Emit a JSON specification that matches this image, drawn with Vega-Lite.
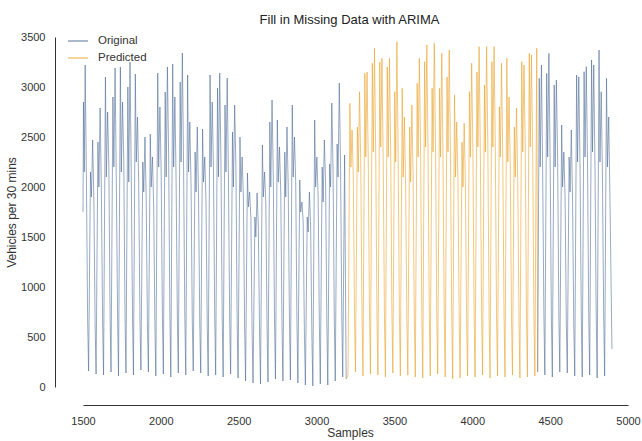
{
"$schema": "https://vega.github.io/schema/vega-lite/v6.json",
"width": 545, "height": 350,
"autosize": {"type": "none"},
"padding": {"left": 83, "top": 37, "right": 14, "bottom": 54},
"config": {"view": {"stroke": null}, "font": "Liberation Sans"},
"title": {"text": "Fill in Missing Data with ARIMA", "fontSize": 13, "fontWeight": "normal", "font": "Liberation Sans", "color": "#222", "offset": 3, "dx": -6},
"datasets": {
"original1": [
{"x":1500,"y":1750},{"x":1503,"y":2850},{"x":1508,"y":2150},{"x":1514,"y":3220},{"x":1522,"y":2050},{"x":1530,"y":650},
{"x":1536,"y":160},{"x":1548,"y":2150},{"x":1554,"y":1900},{"x":1562,"y":2470},{"x":1570,"y":1850},{"x":1578,"y":600},
{"x":1584,"y":130},{"x":1596,"y":2450},{"x":1602,"y":2000},{"x":1610,"y":2790},{"x":1618,"y":1950},{"x":1626,"y":650},
{"x":1632,"y":120},{"x":1644,"y":3100},{"x":1650,"y":2100},{"x":1658,"y":2750},{"x":1666,"y":2200},{"x":1674,"y":700},
{"x":1680,"y":150},{"x":1692,"y":2900},{"x":1698,"y":2200},{"x":1706,"y":3190},{"x":1714,"y":2050},{"x":1722,"y":720},
{"x":1728,"y":110},{"x":1740,"y":3200},{"x":1746,"y":2150},{"x":1754,"y":2850},{"x":1762,"y":2250},{"x":1770,"y":680},
{"x":1776,"y":140},{"x":1788,"y":3000},{"x":1794,"y":2050},{"x":1802,"y":3250},{"x":1810,"y":2100},{"x":1818,"y":700},
{"x":1824,"y":120},{"x":1836,"y":3130},{"x":1842,"y":2250},{"x":1850,"y":2700},{"x":1858,"y":2000},{"x":1866,"y":650},
{"x":1872,"y":170},{"x":1884,"y":2250},{"x":1890,"y":1950},{"x":1898,"y":2500},{"x":1906,"y":1850},{"x":1914,"y":600},
{"x":1920,"y":150},{"x":1932,"y":2530},{"x":1938,"y":2000},{"x":1946,"y":2300},{"x":1954,"y":1800},{"x":1962,"y":580},
{"x":1968,"y":110},{"x":1980,"y":3140},{"x":1986,"y":2200},{"x":1994,"y":2800},{"x":2002,"y":2150},{"x":2010,"y":700},
{"x":2016,"y":130},{"x":2028,"y":2950},{"x":2034,"y":2100},{"x":2042,"y":3200},{"x":2050,"y":2300},{"x":2058,"y":720},
{"x":2064,"y":100},{"x":2076,"y":3230},{"x":2082,"y":2200},{"x":2090,"y":2900},{"x":2098,"y":2050},{"x":2106,"y":690},
{"x":2112,"y":140},{"x":2124,"y":3050},{"x":2130,"y":2250},{"x":2138,"y":3340},{"x":2146,"y":2200},{"x":2154,"y":700},
{"x":2160,"y":120},{"x":2172,"y":3120},{"x":2178,"y":2150},{"x":2186,"y":2650},{"x":2194,"y":2000},{"x":2202,"y":650},
{"x":2208,"y":160},{"x":2220,"y":2350},{"x":2226,"y":1950},{"x":2234,"y":2600},{"x":2242,"y":1900},{"x":2250,"y":620},
{"x":2256,"y":140},{"x":2268,"y":2580},{"x":2274,"y":2050},{"x":2282,"y":2300},{"x":2290,"y":1850},{"x":2298,"y":600},
{"x":2304,"y":110},{"x":2316,"y":3120},{"x":2322,"y":2200},{"x":2330,"y":2850},{"x":2338,"y":2150},{"x":2346,"y":700},
{"x":2352,"y":120},{"x":2364,"y":2990},{"x":2370,"y":2100},{"x":2378,"y":3140},{"x":2386,"y":2250},{"x":2394,"y":690},
{"x":2400,"y":100},{"x":2412,"y":2820},{"x":2418,"y":2150},{"x":2426,"y":3090},{"x":2434,"y":2100},{"x":2442,"y":680},
{"x":2448,"y":130},{"x":2460,"y":2550},{"x":2466,"y":2000},{"x":2474,"y":2820},{"x":2482,"y":2200},{"x":2490,"y":650},
{"x":2496,"y":90},{"x":2508,"y":2500},{"x":2514,"y":1950},{"x":2522,"y":2300},{"x":2530,"y":1900},{"x":2538,"y":600},
{"x":2544,"y":60},{"x":2556,"y":2140},{"x":2562,"y":1800},{"x":2570,"y":1950},{"x":2578,"y":1700},{"x":2586,"y":550},
{"x":2592,"y":40},{"x":2604,"y":1700},{"x":2610,"y":1500},{"x":2618,"y":1940},{"x":2626,"y":1600},{"x":2634,"y":520},
{"x":2640,"y":30},{"x":2652,"y":2420},{"x":2658,"y":1900},{"x":2666,"y":2150},{"x":2674,"y":1850},{"x":2682,"y":600},
{"x":2688,"y":50},{"x":2700,"y":2650},{"x":2706,"y":2000},{"x":2714,"y":2870},{"x":2722,"y":2100},{"x":2730,"y":650},
{"x":2736,"y":80},{"x":2748,"y":2670},{"x":2754,"y":2050},{"x":2762,"y":2400},{"x":2770,"y":1950},{"x":2778,"y":620},
{"x":2784,"y":60},{"x":2796,"y":2350},{"x":2802,"y":1900},{"x":2810,"y":2600},{"x":2818,"y":2000},{"x":2826,"y":640},
{"x":2832,"y":70},{"x":2844,"y":2820},{"x":2850,"y":2100},{"x":2858,"y":2500},{"x":2866,"y":2050},{"x":2874,"y":660},
{"x":2880,"y":40},{"x":2892,"y":2070},{"x":2898,"y":1750},{"x":2906,"y":1850},{"x":2914,"y":1650},{"x":2922,"y":520},
{"x":2928,"y":20},{"x":2940,"y":1700},{"x":2946,"y":1550},{"x":2954,"y":1950},{"x":2962,"y":1600},{"x":2970,"y":500},
{"x":2976,"y":10},{"x":2988,"y":2670},{"x":2994,"y":2000},{"x":3002,"y":2300},{"x":3010,"y":1900},{"x":3018,"y":620},
{"x":3024,"y":30},{"x":3036,"y":2200},{"x":3042,"y":1850},{"x":3050,"y":2470},{"x":3058,"y":2050},{"x":3066,"y":640},
{"x":3072,"y":20},{"x":3084,"y":2230},{"x":3090,"y":2000},{"x":3098,"y":2840},{"x":3106,"y":2150},{"x":3114,"y":660},
{"x":3120,"y":60},{"x":3132,"y":2430},{"x":3138,"y":2100},{"x":3146,"y":3040},{"x":3154,"y":2200},{"x":3162,"y":680},
{"x":3168,"y":100},{"x":3180,"y":2320},{"x":3190,"y":80}
],
"predicted": [
{"x":3190,"y":80},
{"x":3202,"y":120},{"x":3214,"y":2837},{"x":3220,"y":2200},{"x":3228,"y":2570},{"x":3236,"y":2100},{"x":3244,"y":650},
{"x":3250,"y":150},{"x":3262,"y":2600},{"x":3268,"y":2150},{"x":3276,"y":2953},{"x":3284,"y":2200},{"x":3292,"y":700},
{"x":3298,"y":110},{"x":3310,"y":3137},{"x":3316,"y":2300},{"x":3324,"y":3150},{"x":3332,"y":2250},{"x":3340,"y":720},
{"x":3346,"y":130},{"x":3358,"y":3237},{"x":3364,"y":2350},{"x":3372,"y":3387},{"x":3380,"y":2300},{"x":3388,"y":700},
{"x":3394,"y":120},{"x":3406,"y":3250},{"x":3412,"y":2400},{"x":3420,"y":3287},{"x":3428,"y":2250},{"x":3436,"y":690},
{"x":3442,"y":100},{"x":3454,"y":3200},{"x":3460,"y":2300},{"x":3468,"y":3287},{"x":3476,"y":2350},{"x":3484,"y":710},
{"x":3490,"y":140},{"x":3502,"y":2953},{"x":3508,"y":2250},{"x":3516,"y":3453},{"x":3524,"y":2300},{"x":3532,"y":700},
{"x":3538,"y":110},{"x":3550,"y":2987},{"x":3556,"y":2100},{"x":3564,"y":2700},{"x":3572,"y":2000},{"x":3580,"y":650},
{"x":3586,"y":120},{"x":3598,"y":2600},{"x":3604,"y":2050},{"x":3612,"y":2820},{"x":3620,"y":2100},{"x":3628,"y":640},
{"x":3634,"y":100},{"x":3646,"y":3037},{"x":3652,"y":2300},{"x":3660,"y":3287},{"x":3668,"y":2350},{"x":3676,"y":700},
{"x":3682,"y":90},{"x":3694,"y":3253},{"x":3700,"y":2400},{"x":3708,"y":3420},{"x":3716,"y":2300},{"x":3724,"y":720},
{"x":3730,"y":110},{"x":3742,"y":2987},{"x":3748,"y":2350},{"x":3756,"y":3437},{"x":3764,"y":2400},{"x":3772,"y":700},
{"x":3778,"y":130},{"x":3790,"y":2987},{"x":3796,"y":2300},{"x":3804,"y":3337},{"x":3812,"y":2250},{"x":3820,"y":690},
{"x":3826,"y":100},{"x":3838,"y":3100},{"x":3844,"y":2350},{"x":3852,"y":3370},{"x":3860,"y":2300},{"x":3868,"y":700},
{"x":3874,"y":80},{"x":3886,"y":2920},{"x":3892,"y":2100},{"x":3900,"y":2650},{"x":3908,"y":2050},{"x":3916,"y":650},
{"x":3922,"y":90},{"x":3934,"y":2450},{"x":3940,"y":2000},{"x":3948,"y":2637},{"x":3956,"y":2000},{"x":3964,"y":620},
{"x":3970,"y":110},{"x":3982,"y":2953},{"x":3988,"y":2300},{"x":3996,"y":3237},{"x":4004,"y":2350},{"x":4012,"y":700},
{"x":4018,"y":100},{"x":4030,"y":3150},{"x":4036,"y":2400},{"x":4044,"y":3403},{"x":4052,"y":2300},{"x":4060,"y":710},
{"x":4066,"y":120},{"x":4078,"y":3020},{"x":4084,"y":2350},{"x":4092,"y":3403},{"x":4100,"y":2400},{"x":4108,"y":700},
{"x":4114,"y":90},{"x":4126,"y":3253},{"x":4132,"y":2400},{"x":4140,"y":3403},{"x":4148,"y":2350},{"x":4156,"y":690},
{"x":4162,"y":110},{"x":4174,"y":2803},{"x":4180,"y":2300},{"x":4188,"y":3237},{"x":4196,"y":2250},{"x":4204,"y":700},
{"x":4210,"y":100},{"x":4222,"y":3287},{"x":4228,"y":2250},{"x":4236,"y":2900},{"x":4244,"y":2200},{"x":4252,"y":660},
{"x":4258,"y":120},{"x":4270,"y":2600},{"x":4276,"y":2100},{"x":4284,"y":2790},{"x":4292,"y":2050},{"x":4300,"y":640},
{"x":4306,"y":90},{"x":4318,"y":3253},{"x":4324,"y":2350},{"x":4332,"y":3220},{"x":4340,"y":2400},{"x":4348,"y":700},
{"x":4354,"y":100},{"x":4366,"y":3337},{"x":4372,"y":2400},{"x":4380,"y":3320},{"x":4388,"y":2350},{"x":4396,"y":700},
{"x":4402,"y":110},{"x":4414,"y":3387},{"x":4420,"y":150}
],
"original2": [
{"x":4420,"y":150},{"x":4430,"y":3087},{"x":4436,"y":2200},{"x":4444,"y":3220},{"x":4452,"y":2150},{"x":4460,"y":700},
{"x":4466,"y":120},{"x":4478,"y":3137},{"x":4484,"y":2300},{"x":4492,"y":3337},{"x":4500,"y":2250},{"x":4508,"y":690},
{"x":4514,"y":100},{"x":4526,"y":3020},{"x":4532,"y":2200},{"x":4540,"y":3070},{"x":4548,"y":2300},{"x":4556,"y":700},
{"x":4562,"y":150},{"x":4574,"y":2620},{"x":4580,"y":2000},{"x":4588,"y":2350},{"x":4596,"y":1900},{"x":4604,"y":620},
{"x":4610,"y":140},{"x":4622,"y":2300},{"x":4628,"y":1950},{"x":4636,"y":2570},{"x":4644,"y":1850},{"x":4652,"y":600},
{"x":4658,"y":110},{"x":4670,"y":3120},{"x":4676,"y":2250},{"x":4684,"y":3103},{"x":4692,"y":2200},{"x":4700,"y":700},
{"x":4706,"y":100},{"x":4718,"y":3153},{"x":4724,"y":2300},{"x":4732,"y":3203},{"x":4740,"y":2250},{"x":4748,"y":690},
{"x":4754,"y":120},{"x":4766,"y":3270},{"x":4772,"y":2350},{"x":4780,"y":3220},{"x":4788,"y":2200},{"x":4796,"y":700},
{"x":4802,"y":90},{"x":4814,"y":3370},{"x":4820,"y":2250},{"x":4828,"y":2953},{"x":4836,"y":2100},{"x":4844,"y":680},
{"x":4850,"y":110},{"x":4862,"y":3087},{"x":4868,"y":2200},{"x":4876,"y":2700},{"x":4884,"y":1900},{"x":4897,"y":380}
]
},
"encoding": {
  "x": {"field": "x", "type": "quantitative",
    "scale": {"domain": [1500, 5000], "nice": false, "zero": false},
    "axis": {"values": [1500, 2000, 2500, 3000, 3500, 4000, 4500, 5000], "format": "d", "title": "Samples", "offset": 18, "ticks": false, "tickSize": 0, "grid": false,
      "domainColor": "#333", "domainWidth": 1, "labelColor": "#333", "labelFontSize": 11, "labelPadding": 10, "labelFlush": false,
      "titleFontSize": 12, "titleFontWeight": "normal", "titleColor": "#333", "titlePadding": 1, "titleX": 267}},
  "y": {"field": "y", "type": "quantitative",
    "scale": {"domain": [0, 3500], "nice": false},
    "axis": {"values": [0, 500, 1000, 1500, 2000, 2500, 3000, 3500], "format": "d", "title": "Vehicles per 30 mins", "offset": 28, "ticks": false, "tickSize": 0, "grid": false,
      "domainColor": "#333", "domainWidth": 1, "labelColor": "#333", "labelFontSize": 11, "labelPadding": 10,
      "titleFontSize": 12, "titleFontWeight": "normal", "titleColor": "#333", "titlePadding": 2}}
},
"layer": [
  {"data": {"name": "original1"}, "mark": {"type": "line", "strokeWidth": 1, "opacity": 0.55},
   "encoding": {"color": {"datum": "Original", "type": "nominal",
     "scale": {"domain": ["Original", "Predicted"], "range": ["#45648f", "#eaa128"]},
     "legend": {"orient": "none", "legendX": -16, "legendY": -7, "title": null, "padding": 0,
       "symbolType": "stroke", "symbolSize": 400, "symbolStrokeWidth": 1.5, "symbolOpacity": 0.3,
       "labelFontSize": 11.5, "labelColor": "#333", "labelOffset": 9, "rowPadding": -3}}}},
  {"data": {"name": "predicted"}, "mark": {"type": "line", "strokeWidth": 1, "opacity": 0.6},
   "encoding": {"color": {"datum": "Predicted", "type": "nominal"}}},
  {"data": {"name": "original2"}, "mark": {"type": "line", "strokeWidth": 1, "opacity": 0.55},
   "encoding": {"color": {"datum": "Original", "type": "nominal"}}}
]
}
